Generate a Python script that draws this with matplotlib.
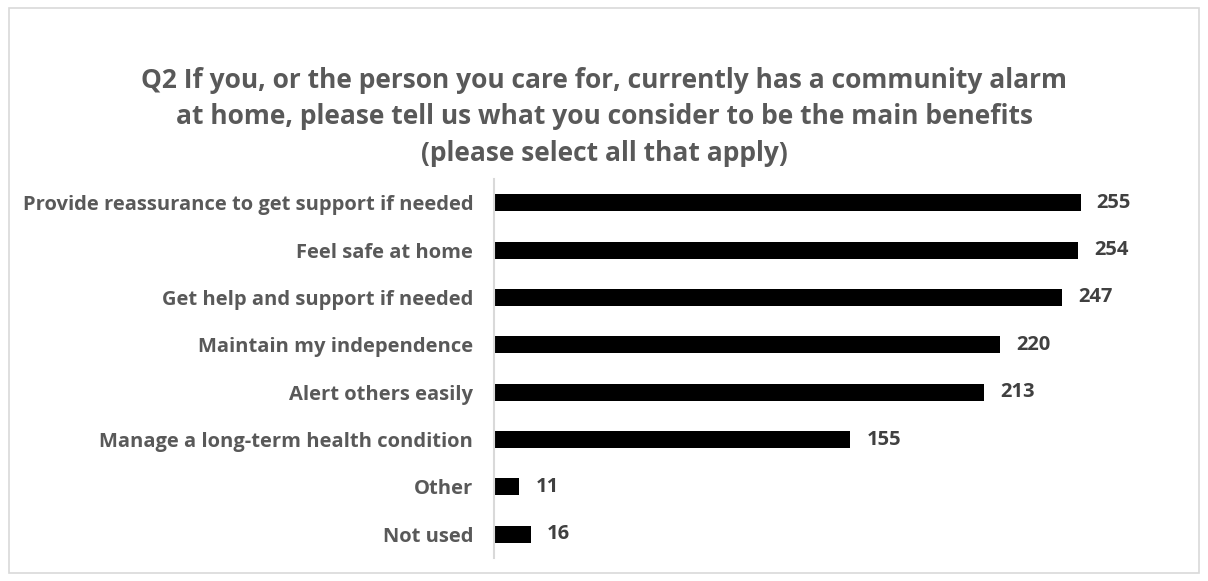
import matplotlib.pyplot as plt
from matplotlib.patches import Rectangle

# survey responses, top to bottom
benefits = [
    "Provide reassurance to get support if needed",
    "Feel safe at home",
    "Get help and support if needed",
    "Maintain my independence",
    "Alert others easily",
    "Manage a long-term health condition",
    "Other",
    "Not used",
]
counts = [255, 254, 247, 220, 213, 155, 11, 16]

title = ("Q2 If you, or the person you care for, currently has a community alarm\n"
         "at home, please tell us what you consider to be the main benefits\n"
         "(please select all that apply)")

plt.rcParams['font.family'] = ['Open Sans', 'DejaVu Sans']

fig = plt.figure(figsize=(12.08, 5.81), dpi=100)
# light grey chart frame
fig.patches.append(Rectangle((9 / 1208, 8 / 581), 1190 / 1208, 565 / 581,
                             transform=fig.transFigure, fill=False,
                             edgecolor='#d9d9d9', linewidth=1.2))

ax = fig.add_axes([494 / 1208, 23 / 581, 690 / 1208, 379 / 581])
y = list(range(len(benefits)))
ax.barh(y, counts, height=0.36, color='black')
ax.set_ylim(len(benefits) - 0.5, -0.5)
ax.set_xlim(0, 300)

for yi, v in zip(y, counts):
    ax.text(v + 7, yi, str(v), va='center', ha='left', fontsize=14.5,
            fontweight='bold', color='#404040')

ax.set_yticks(y)
ax.set_yticklabels(benefits, fontsize=14.5, fontweight='bold', color='#595959')
ax.tick_params(axis='y', length=0, pad=15)
ax.set_xticks([])
for s in ['top', 'right', 'bottom']:
    ax.spines[s].set_visible(False)
ax.spines['left'].set_color('#d9d9d9')
ax.spines['left'].set_linewidth(1.5)

fig.text(0.5, 1 - 117 / 581, title, ha='center', va='center', fontsize=19,
         fontweight='bold', color='#595959', linespacing=1.45)

fig.savefig('out.png', dpi=100)
